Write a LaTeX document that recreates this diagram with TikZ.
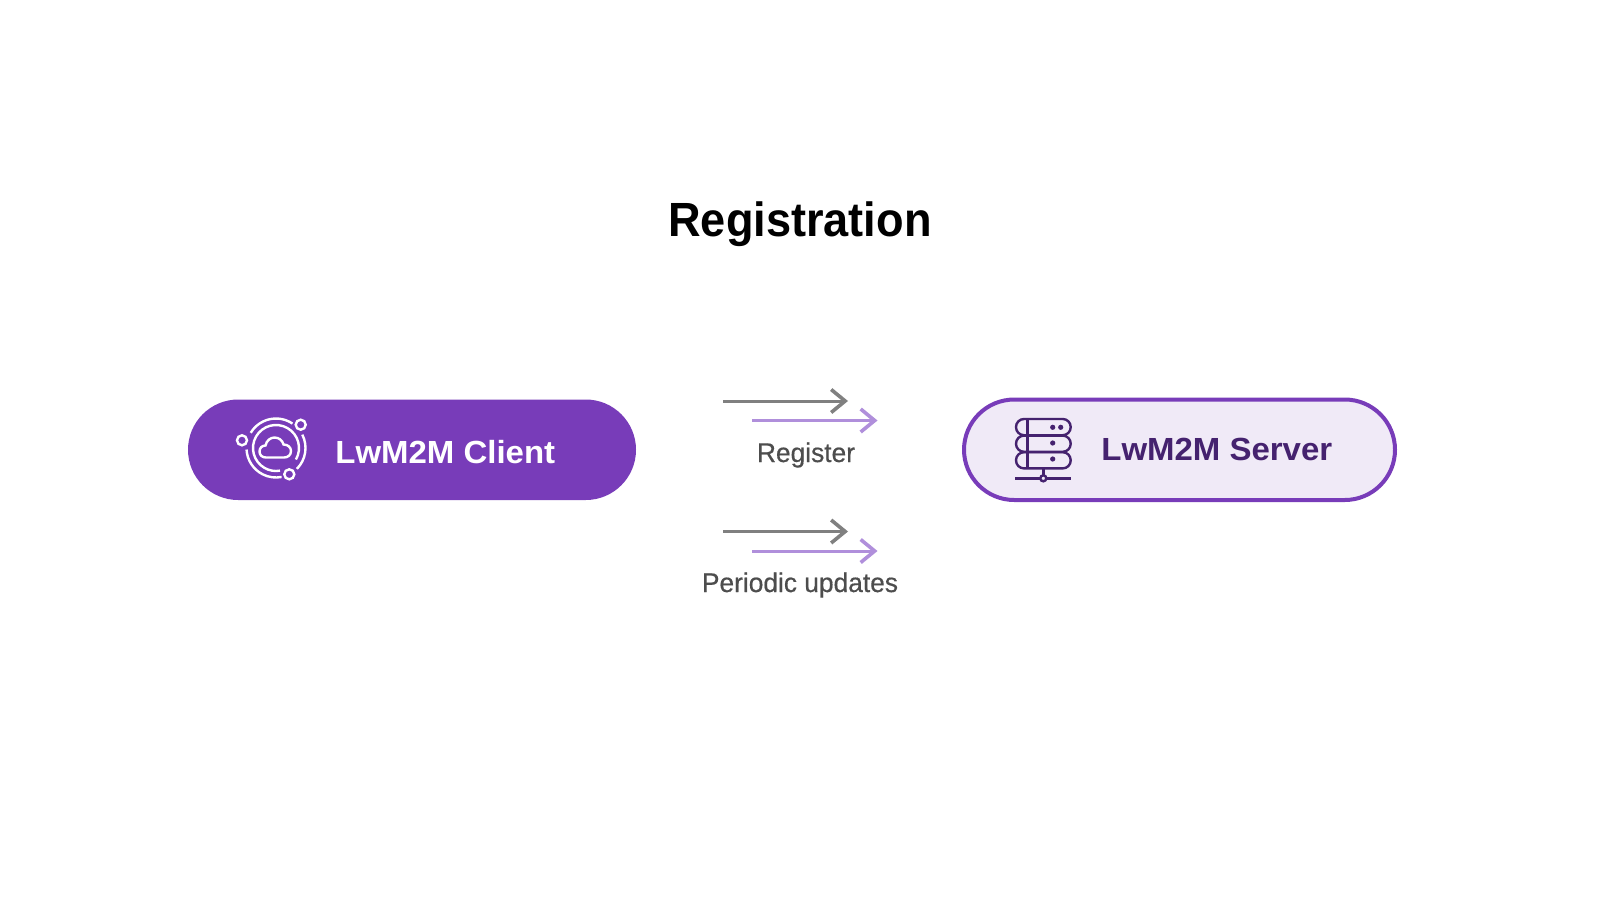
\documentclass[tikz,border=0pt]{standalone}
\usepackage{fontspec}
\setmainfont{Liberation Sans}
\usetikzlibrary{arrows.meta,shapes.misc}
\definecolor{clientpurple}{HTML}{783CB9}
\definecolor{serverfill}{HTML}{F0EAF7}
\definecolor{darkpurple}{HTML}{45226F}
\definecolor{arrowgrey}{HTML}{808080}
\definecolor{arrowpurple}{HTML}{B08FDB}
\definecolor{labelgrey}{HTML}{4D4D4D}

\begin{document}
\begin{tikzpicture}[x=.5pt, y=-.5pt,
    pill/.style={rounded rectangle, rounded rectangle arc length=180, inner sep=0pt},
    name text/.style={anchor=base west, inner sep=0pt, font=\fontsize{16}{18}\selectfont\bfseries\addfontfeature{FakeStretch=1.03}},
    note/.style={anchor=base, inner sep=0pt, text=labelgrey, font=\fontsize{13.5}{16}\selectfont\addfontfeature{FakeStretch=.975,FakeBold=.5}},
    icon line/.style={line width=1.2pt},
    flow/.style={line width=1.5pt, -{Straight Barb[length=7pt, width=11.5pt, line width=1.8pt]}}]
  \useasboundingbox (0,0) rectangle (1600,900);

  \node[anchor=base, inner sep=0pt, font=\fontsize{24}{28}\selectfont\bfseries\addfontfeature{FakeStretch=.94}] (title) at (800,236) {Registration};

  \node[pill, fill=clientpurple, minimum width=224pt, minimum height=50.25pt] (client) at (412,449.75) {};
  \node[pill, draw=clientpurple, fill=serverfill, line width=2pt, minimum width=215.5pt, minimum height=50.25pt] (server) at (1179.5,449.75) {};
  \node[name text, text=white] (clientname) at (335,463) {LwM2M Client};
  \node[name text, text=darkpurple] (servername) at (1101,460) {LwM2M Server};

  % arrows
  \coordinate (ga1) at (723,401);   \coordinate (gb1) at (848,401);
  \coordinate (pa1) at (752,420.5); \coordinate (pb1) at (877.5,420.5);
  \coordinate (ga2) at (723,531.5); \coordinate (gb2) at (848,531.5);
  \coordinate (pa2) at (752,551);   \coordinate (pb2) at (877.5,551);
  \foreach \n in {1,2} {
    \draw[flow, arrowgrey] (ga\n) -- (gb\n);
    \draw[flow, arrowpurple] (pa\n) -- (pb\n);
  }
  \node[note] (register) at (806,462) {Register};
  \node[note] (updates) at (800,592) {Periodic updates};

  % client icon
  \begin{scope}[icon line, draw=white]
    \draw (276,448) ++(56:14.75pt) arc[start angle=56, end angle=149, radius=14.75pt];
    \draw (276,448) ++(183:14.75pt) arc[start angle=183, end angle=281, radius=14.75pt];
    \draw (276,448) ++(315:14.75pt) arc[start angle=315, end angle=387, radius=14.75pt];
    \draw (276,448) ++(-30:11.5pt) arc[start angle=-30, end angle=280, radius=11.5pt];
    \foreach \p in {(300.7,424.7),(242,440.3),(289.3,474.3)}
      \draw \p circle[radius=2.5pt];
    \draw (266,457.5) .. controls (262,457.5) and (259.5,455) .. (259.5,451.5)
      .. controls (259.5,448) and (262,445.5) .. (265.5,445.5)
      .. controls (266.5,440.5) and (270.5,437.5) .. (274.5,437.5)
      .. controls (279,437.5) and (282.5,440.5) .. (283.5,444.5)
      .. controls (288,444.5) and (291,447.5) .. (291,451)
      .. controls (291,455) and (288,457.5) .. (284,457.5) -- cycle;
  \end{scope}

  % server icon
  \begin{scope}[icon line, draw=darkpurple]
    \foreach \y in {419,435.6,452.2}
      \draw[rounded corners=4pt] (1016,\y) rectangle (1070.7,\y+16.2);
    \draw (1027.3,419) -- (1027.3,468.4);
    \foreach \p in {(1052.7,427.3),(1060.7,427.3),(1052.7,443),(1052.7,459)}
      \fill[darkpurple] \p circle[radius=1.3pt];
    \draw (1043.3,468.4) -- (1043.3,475.3);
    \draw (1015.3,478.3) -- (1040.3,478.3) (1046.3,478.3) -- (1070.7,478.3);
    \draw (1043.3,478.3) circle[radius=1.5pt];
  \end{scope}
\end{tikzpicture}
\end{document}
